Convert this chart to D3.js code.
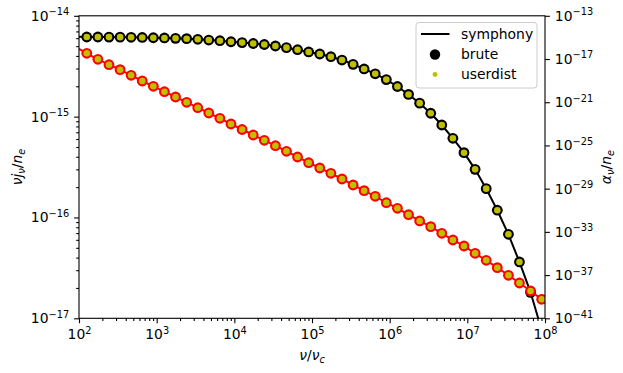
<!DOCTYPE html>
<html><head><meta charset="utf-8">
<script src="https://cdn.jsdelivr.net/npm/d3@7"></script>
<style>
body{margin:0;background:#fff}
text{font-family:"DejaVu Sans",sans-serif}
</style>
</head><body>
<svg id="chart" width="623" height="373"></svg>
<script>
// ---- data ----
// log10(nu/nu_c) of the sampled points
const sampleNuExp = [2.100, 2.243, 2.386, 2.529, 2.671, 2.814, 2.957, 3.100, 3.243, 3.386,
  3.529, 3.671, 3.814, 3.957, 4.100, 4.243, 4.386, 4.529, 4.671, 4.814,
  4.957, 5.100, 5.243, 5.386, 5.529, 5.671, 5.814, 5.957, 6.100, 6.243,
  6.386, 6.529, 6.671, 6.814, 6.957, 7.100, 7.243, 7.386, 7.529, 7.671,
  7.814, 7.957];
const bruteJ = [6.16e-15, 6.16e-15, 6.15e-15, 6.14e-15, 6.12e-15, 6.10e-15, 6.06e-15, 6.03e-15, 5.98e-15, 5.93e-15,
  5.85e-15, 5.75e-15, 5.66e-15, 5.53e-15, 5.42e-15, 5.31e-15, 5.19e-15, 5.02e-15, 4.83e-15, 4.61e-15,
  4.38e-15, 4.18e-15, 3.93e-15, 3.64e-15, 3.30e-15, 2.97e-15, 2.66e-15, 2.33e-15, 1.99e-15, 1.66e-15,
  1.36e-15, 1.08e-15, 8.26e-16, 6.10e-16, 4.39e-16, 3.00e-16, 1.93e-16, 1.18e-16, 6.81e-17, 3.62e-17,
  1.81e-17, 7.66e-18];
const bruteAlpha = [3.38e-17, 9.42e-18, 2.98e-18, 1.03e-18, 3.11e-19, 9.23e-20, 2.98e-20, 9.44e-21, 3.05e-21, 9.86e-22,
  3.12e-22, 1.01e-22, 3.26e-23, 9.66e-24, 2.99e-24, 9.27e-25, 3.00e-25, 9.48e-26, 2.87e-26, 8.53e-27,
  2.53e-27, 8.18e-28, 2.64e-28, 7.85e-29, 2.18e-29, 6.48e-30, 1.96e-30, 5.02e-31, 1.52e-31, 3.89e-32,
  1.02e-32, 3.02e-33, 7.40e-34, 1.77e-34, 4.93e-35, 1.04e-35, 2.34e-36, 4.84e-37, 9.57e-38, 1.85e-38,
  3.37e-39, 5.75e-40];
const userdistJ = [6.16e-15, 6.16e-15, 6.15e-15, 6.14e-15, 6.12e-15, 6.10e-15, 6.06e-15, 6.03e-15, 5.98e-15, 5.93e-15,
  5.85e-15, 5.75e-15, 5.66e-15, 5.53e-15, 5.42e-15, 5.31e-15, 5.19e-15, 5.02e-15, 4.83e-15, 4.61e-15,
  4.38e-15, 4.18e-15, 3.93e-15, 3.64e-15, 3.30e-15, 2.97e-15, 2.66e-15, 2.33e-15, 1.99e-15, 1.66e-15,
  1.36e-15, 1.08e-15, 8.26e-16, 6.10e-16, 4.39e-16, 3.00e-16, 1.93e-16, 1.18e-16, 6.81e-17, 3.62e-17,
  1.81e-17, 7.66e-18];
const userdistAlpha = [3.38e-17, 9.42e-18, 2.98e-18, 1.03e-18, 3.11e-19, 9.23e-20, 2.98e-20, 9.44e-21, 3.05e-21, 9.86e-22,
  3.12e-22, 1.01e-22, 3.26e-23, 9.66e-24, 2.99e-24, 9.27e-25, 3.00e-25, 9.48e-26, 2.87e-26, 8.53e-27,
  2.53e-27, 8.18e-28, 2.64e-28, 7.85e-29, 2.18e-29, 6.48e-30, 1.96e-30, 5.02e-31, 1.52e-31, 3.89e-32,
  1.02e-32, 3.02e-33, 7.40e-34, 1.77e-34, 4.93e-35, 1.04e-35, 2.34e-36, 4.84e-37, 9.57e-38, 1.85e-38,
  3.37e-39, 5.75e-40];
// symphony curve: sampled points plus the two ends of the axis
const symphonyNuExp = [2.000, 2.100, 2.243, 2.386, 2.529, 2.671, 2.814, 2.957, 3.100, 3.243, 3.386,
  3.529, 3.671, 3.814, 3.957, 4.100, 4.243, 4.386, 4.529, 4.671, 4.814,
  4.957, 5.100, 5.243, 5.386, 5.529, 5.671, 5.814, 5.957, 6.100, 6.243,
  6.386, 6.529, 6.671, 6.814, 6.957, 7.100, 7.243, 7.386, 7.529, 7.671,
  7.814, 7.957, 8.000];
const symphonyJ = [6.19e-15, 6.16e-15, 6.16e-15, 6.15e-15, 6.14e-15, 6.12e-15, 6.10e-15, 6.06e-15, 6.03e-15, 5.98e-15, 5.93e-15,
  5.85e-15, 5.75e-15, 5.66e-15, 5.53e-15, 5.42e-15, 5.31e-15, 5.19e-15, 5.02e-15, 4.83e-15, 4.61e-15,
  4.38e-15, 4.18e-15, 3.93e-15, 3.64e-15, 3.30e-15, 2.97e-15, 2.66e-15, 2.33e-15, 1.99e-15, 1.66e-15,
  1.36e-15, 1.08e-15, 8.26e-16, 6.10e-16, 4.39e-16, 3.00e-16, 1.93e-16, 1.18e-16, 6.81e-17, 3.62e-17,
  1.81e-17, 7.66e-18, 5.40e-18];
const symphonyAlpha = [8.83e-17, 3.38e-17, 9.42e-18, 2.98e-18, 1.03e-18, 3.11e-19, 9.23e-20, 2.98e-20, 9.44e-21, 3.05e-21, 9.86e-22,
  3.12e-22, 1.01e-22, 3.26e-23, 9.66e-24, 2.99e-24, 9.27e-25, 3.00e-25, 9.48e-26, 2.87e-26, 8.53e-27,
  2.53e-27, 8.18e-28, 2.64e-28, 7.85e-29, 2.18e-29, 6.48e-30, 1.96e-30, 5.02e-31, 1.52e-31, 3.89e-32,
  1.02e-32, 3.02e-33, 7.40e-34, 1.77e-34, 4.93e-35, 1.04e-35, 2.34e-36, 4.84e-37, 9.57e-38, 1.85e-38,
  3.37e-39, 5.75e-40, 2.90e-40];

const xTickExp = [2, 3, 4, 5, 6, 7, 8];
const yLeftTickExp = [-17, -16, -15, -14];
const yRightTickExp = [-41, -37, -33, -29, -25, -21, -17, -13];
const legendLabels = ["symphony", "brute", "userdist"];

// ---- layout ----
const L = 79, R = 545, T = 15.8, B = 318.3;
const FS = 13.9, SUP = 9.8;
const YELLOW = "#bfbf00";

const svg = d3.select("#chart");
const x = d3.scaleLog().domain([1e2, 1e8]).range([L, R]);
const yL = d3.scaleLog().domain([1e-17, 1e-14]).range([B, T]);
const yR = d3.scaleLog().domain([1e-41, 1e-13]).range([B, T]);

const sampleNu = sampleNuExp.map(e => Math.pow(10, e));
const symNu = symphonyNuExp.map(e => Math.pow(10, e));

svg.append("defs").append("clipPath").attr("id", "clip")
  .append("rect").attr("x", L).attr("y", T).attr("width", R - L).attr("height", B - T);

const plot = svg.append("g").attr("clip-path", "url(#clip)");

// j (left axis)
plot.append("path")
  .datum(symNu.map((n, i) => [n, symphonyJ[i]]))
  .attr("fill", "none").attr("stroke", "#000").attr("stroke-width", 2)
  .attr("d", d3.line().x(d => x(d[0])).y(d => yL(d[1])));
plot.append("g").selectAll("circle").data(sampleNu.map((n, i) => [n, bruteJ[i]]))
  .join("circle").attr("cx", d => x(d[0])).attr("cy", d => yL(d[1])).attr("r", 5.4).attr("fill", "#000");
plot.append("g").selectAll("circle").data(sampleNu.map((n, i) => [n, userdistJ[i]]))
  .join("circle").attr("cx", d => x(d[0])).attr("cy", d => yL(d[1])).attr("r", 3.3).attr("fill", YELLOW);

// alpha (right axis)
plot.append("path")
  .datum(symNu.map((n, i) => [n, symphonyAlpha[i]]))
  .attr("fill", "none").attr("stroke", "#ff0000").attr("stroke-width", 2)
  .attr("d", d3.line().x(d => x(d[0])).y(d => yR(d[1])));
plot.append("g").selectAll("circle").data(sampleNu.map((n, i) => [n, bruteAlpha[i]]))
  .join("circle").attr("cx", d => x(d[0])).attr("cy", d => yR(d[1])).attr("r", 5.4).attr("fill", "#ff0000");
plot.append("g").selectAll("circle").data(sampleNu.map((n, i) => [n, userdistAlpha[i]]))
  .join("circle").attr("cx", d => x(d[0])).attr("cy", d => yR(d[1])).attr("r", 3.3).attr("fill", YELLOW);

// ---- axes ----
function supLabels(g) {
  g.selectAll(".tick text").each(function (d) {
    const t = d3.select(this);
    const e = Math.round(Math.log10(d));
    t.text(null).attr("font-size", FS).attr("fill", "#000");
    t.append("tspan").text("10");
    t.append("tspan").attr("font-size", SUP).attr("dy", -5.5).text(String(e).replace("-", "\u2212"));
  });
}
function styleAxis(g) {
  g.select(".domain").remove();
  g.selectAll(".tick line").attr("stroke", "#000").attr("stroke-width", 1.1);
}
function minorVals(lo, hi) {
  const v = [];
  for (let e = lo; e < hi; e++) for (let m = 2; m <= 9; m++) v.push(m * Math.pow(10, e));
  return v;
}

// x minor
svg.append("g").attr("transform", `translate(0,${B})`)
  .call(d3.axisBottom(x).tickValues(minorVals(2, 8)).tickSize(2.8).tickFormat(""))
  .call(styleAxis);
// x major
svg.append("g").attr("transform", `translate(0,${B})`)
  .call(d3.axisBottom(x).tickValues(xTickExp.map(e => Math.pow(10, e))).tickSize(4.9).tickPadding(6))
  .call(styleAxis).call(supLabels)
  .selectAll(".tick text").attr("font-family", "DejaVu Sans");

// left minor
svg.append("g").attr("transform", `translate(${L},0)`)
  .call(d3.axisLeft(yL).tickValues(minorVals(-17, -14)).tickSize(2.8).tickFormat(""))
  .call(styleAxis);
// left major
svg.append("g").attr("transform", `translate(${L},0)`)
  .call(d3.axisLeft(yL).tickValues(yLeftTickExp.map(e => Math.pow(10, e))).tickSize(4.9).tickPadding(4.9))
  .call(styleAxis).call(supLabels);

// right major
svg.append("g").attr("transform", `translate(${R},0)`)
  .call(d3.axisRight(yR).tickValues(yRightTickExp.map(e => Math.pow(10, e))).tickSize(4.9).tickPadding(4.9))
  .call(styleAxis).call(supLabels);

// frame
svg.append("rect").attr("x", L).attr("y", T).attr("width", R - L).attr("height", B - T)
  .attr("fill", "none").attr("stroke", "#000").attr("stroke-width", 1.1);

// ---- axis labels ----
function mathLabel(parent, parts) {
  const t = parent.append("text").attr("font-size", FS).attr("text-anchor", "middle").attr("fill", "#000");
  parts.forEach(p => {
    const s = t.append("tspan").text(p.t);
    if (p.i) s.attr("font-style", "italic");
    if (p.sub) s.attr("font-size", SUP).attr("dy", 3);
    if (p.back) s.attr("dy", -3);
  });
  return t;
}
mathLabel(svg, [{t: "ν", i: 1}, {t: "/"}, {t: "ν", i: 1}, {t: "c", i: 1, sub: 1}])
  .attr("x", (L + R) / 2).attr("y", 360);

mathLabel(svg.append("g").attr("transform", `translate(22,${(T + B) / 2}) rotate(-90)`),
  [{t: "νj", i: 1}, {t: "ν", i: 1, sub: 1}, {t: "/", back: 1}, {t: "n", i: 1}, {t: "e", i: 1, sub: 1}]);

mathLabel(svg.append("g").attr("transform", `translate(611,${(T + B) / 2}) rotate(-90)`),
  [{t: "α", i: 1}, {t: "ν", i: 1, sub: 1}, {t: "/", back: 1}, {t: "n", i: 1}, {t: "e", i: 1, sub: 1}]);

// ---- legend ----
const lg = svg.append("g");
lg.append("rect").attr("x", 416).attr("y", 22.5).attr("width", 121).attr("height", 65.5).attr("rx", 3)
  .attr("fill", "#fff").attr("fill-opacity", 0.8).attr("stroke", "#cccccc").attr("stroke-width", 1);
const rowY = [34, 54.5, 74.5];
lg.append("line").attr("x1", 421).attr("x2", 449.5).attr("y1", rowY[0]).attr("y2", rowY[0])
  .attr("stroke", "#000").attr("stroke-width", 2);
lg.append("circle").attr("cx", 435).attr("cy", rowY[1]).attr("r", 5.2).attr("fill", "#000");
lg.append("circle").attr("cx", 435).attr("cy", rowY[2]).attr("r", 2.4).attr("fill", YELLOW);
legendLabels.forEach((s, i) => {
  lg.append("text").attr("x", 461).attr("y", rowY[i]).attr("dy", "0.35em")
    .attr("font-size", FS).attr("fill", "#000").text(s);
});
</script>
</body></html>
